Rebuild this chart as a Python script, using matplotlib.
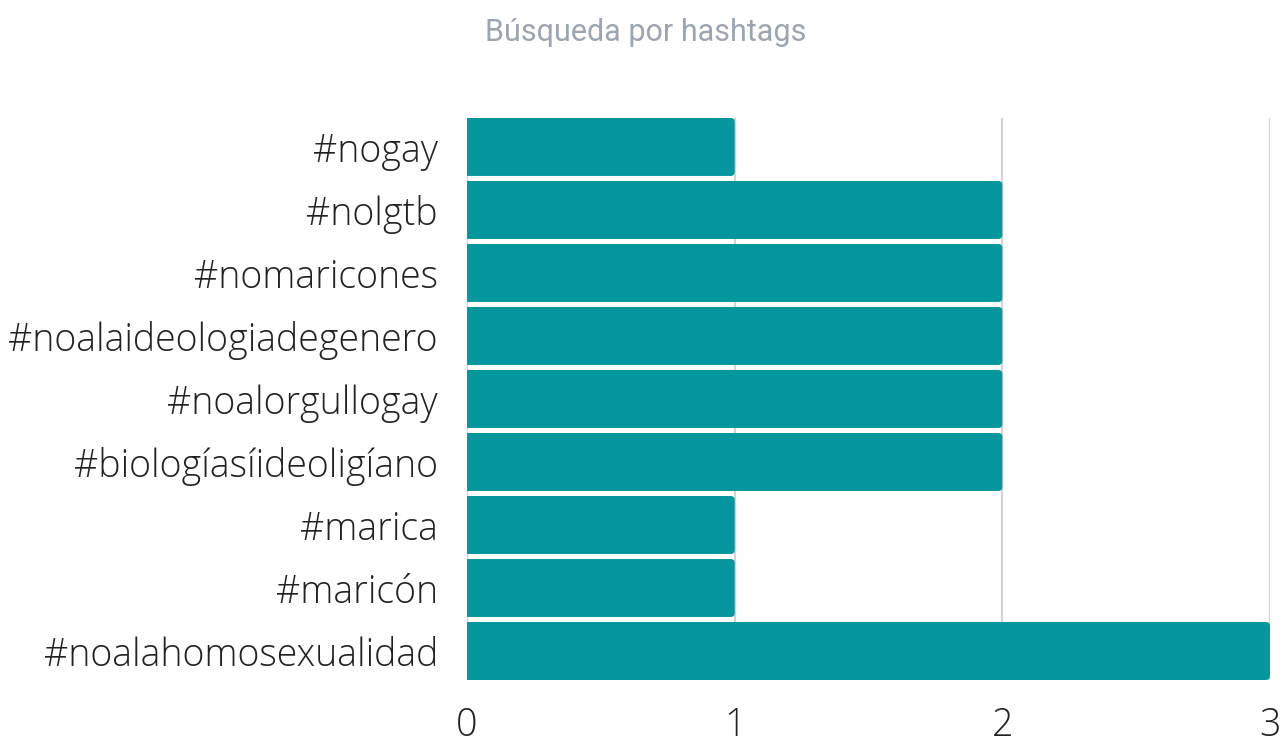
import matplotlib
matplotlib.use("Agg")
import matplotlib.pyplot as plt
from matplotlib.patches import FancyBboxPatch

hashtags = ['#nogay', '#nolgtb', '#nomaricones', '#noalaideologiadegenero',
            '#noalorgullogay', '#biologíasíideoligíano', '#marica', '#maricón',
            '#noalahomosexualidad']
counts = [1, 2, 2, 2, 2, 2, 1, 1, 3]
x_ticks = [0, 1, 2, 3]

fig = plt.figure(figsize=(12.81, 7.36), dpi=100)
ax = fig.add_axes([0.3646, 0.0761, 0.6268, 0.7636])

bar_h = 0.92
pos = list(range(len(hashtags)))[::-1]
ax.set_xlim(0, 3)
ax.set_ylim(-0.46, len(hashtags) - 0.54)

# rounded right corners; left side starts off-axis so it gets clipped square
px_x = 3 / (0.6268 * 1281)
px_y = (len(hashtags) - 1 + 0.92) / (0.7636 * 736)
for y, c in zip(pos, counts):
    box = FancyBboxPatch((-0.1, y - bar_h / 2), c + 0.1, bar_h,
                         boxstyle='round,pad=0,rounding_size=%f' % (4 * px_x),
                         mutation_aspect=px_y / px_x,
                         facecolor='#05979d', edgecolor='none', zorder=3)
    ax.add_patch(box)

ax.set_xticks(x_ticks)
ax.set_xticklabels([str(t) for t in x_ticks])
ax.set_yticks(pos)
ax.set_yticklabels(hashtags)

ax.grid(axis='x', color='#d3d3d3', linewidth=1.5, zorder=0)
ax.tick_params(length=0)
ax.tick_params(axis='y', pad=21, labelsize=27)
ax.tick_params(axis='x', pad=19, labelsize=27)
for lbl in ax.get_yticklabels() + ax.get_xticklabels():
    lbl.set_fontfamily('Open Sans')
    lbl.set_fontweight('light')
    lbl.set_color('#222222')
for s in ax.spines.values():
    s.set_visible(False)

fig.text(0.504, 0.956, 'Búsqueda por hashtags', ha='center', va='center',
         fontsize=22, color='#9aa5b1', family='Roboto')

fig.savefig('out.png', dpi=100)
